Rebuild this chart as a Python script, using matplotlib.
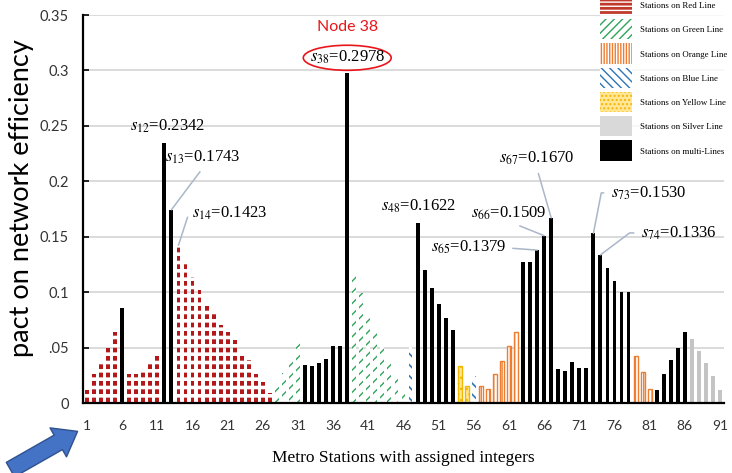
import matplotlib
matplotlib.use("Agg")
from matplotlib import pyplot as plt
from matplotlib.patches import Patch, Ellipse, FancyArrowPatch, Rectangle
from matplotlib.legend_handler import HandlerPatch
from matplotlib.transforms import IdentityTransform
import numpy as np

# impact of each metro station (1..91) on network efficiency
impact = [0.012, 0.026, 0.037, 0.050, 0.064, 0.086, 0.026, 0.026, 0.031, 0.037,
          0.045, 0.2342, 0.1743, 0.1423, 0.1275, 0.114, 0.102, 0.089, 0.082, 0.070,
          0.064, 0.057, 0.045, 0.039, 0.026, 0.019, 0.009, 0.015, 0.027, 0.039,
          0.059, 0.034, 0.033, 0.036, 0.040, 0.051, 0.051, 0.2978, 0.117, 0.099,
          0.079, 0.066, 0.054, 0.036, 0.025, 0.013, 0.051, 0.1622, 0.120, 0.104,
          0.089, 0.077, 0.066, 0.033, 0.015, 0.024, 0.015, 0.013, 0.026, 0.038,
          0.051, 0.064, 0.1275, 0.1275, 0.1379, 0.1509, 0.1670, 0.031, 0.029, 0.037,
          0.032, 0.032, 0.1530, 0.1336, 0.1215, 0.110, 0.1005, 0.1005, 0.042, 0.028,
          0.013, 0.012, 0.026, 0.039, 0.050, 0.064, 0.0575, 0.047, 0.036, 0.024,
          0.012]
stations = list(range(1, len(impact) + 1))

# which line each run of consecutive stations belongs to
line_runs = [("Red", 5), ("multi", 1), ("Red", 5), ("multi", 2), ("Red", 14),
             ("Green", 4), ("multi", 7), ("Green", 8), ("Blue", 1), ("multi", 6),
             ("Yellow", 2), ("Blue", 1), ("Orange", 6), ("multi", 16), ("Orange", 3),
             ("multi", 5), ("Silver", 5)]
line_order = ["Red", "Green", "Orange", "Blue", "Yellow", "Silver", "multi"]
legend_labels = ["Stations on Red Line", "Stations on Green Line", "Stations on Orange Line",
                 "Stations on Blue Line", "Stations on Yellow Line", "Stations on Silver Line",
                 "Stations on multi-Lines"]

# labelled stations
noted = [12, 13, 14, 48, 65, 66, 67, 73, 74]
yticks = [0, 0.05, 0.1, 0.15, 0.2, 0.25, 0.3, 0.35]
ytick_labels = ["0", ".05", "0.1", "0.15", "0.2", "0.25", "0.3", "0.35"]
xticks = list(range(1, 92, 5))

line_of = []
for name, n in line_runs:
    line_of += [name] * n
line_of = np.array(line_of)
stations = np.array(stations)
impact = np.array(impact)

# face, hatch colour, hatch, hatch lw, edge lw
styles = {
    "Red": ("#b3191b", "white", "--", 2.6, 0),
    "Green": ("white", "#2fa35a", "///", 1.0, 0),
    "Orange": ("white", "#ed7d31", "||||", 1.0, 1.0),
    "Blue": ("white", "#2e75b6", "\\\\\\", 1.2, 0),
    "Yellow": ("#ffe699", "#f2b800", "...", 1.0, 1.0),
    "Silver": ("#c4c4c4", "#c4c4c4", None, 1.0, 0),
    "multi": ("black", "black", None, 1.0, 0),
}
legend_hatch = {"Red": "----", "Green": "////", "Orange": "||||||", "Blue": "\\\\\\\\",
                "Yellow": "....", "Silver": None, "multi": None}

serif = "Liberation Serif"
sans = "Lato"
plt.rcParams["mathtext.fontset"] = "stix"


def tall_patch(legend, orig_handle, xdescent, ydescent, width, height, fontsize):
    # legend swatch about 20 px high, centred on the text line
    h = 14.6
    cy = -ydescent + height / 2
    return Rectangle((-xdescent, cy - h / 2), width, h)


fig = plt.figure(figsize=(7.32, 4.73), dpi=100)
ax = fig.add_axes([83 / 732, 70 / 473, 641 / 732, 388 / 473])

handles = []
for name, lab in zip(line_order, legend_labels):
    fc, hc, hatch, hlw, elw = styles[name]
    sel = line_of == name
    with plt.rc_context({"hatch.linewidth": hlw}):
        ax.bar(stations[sel], impact[sel], width=0.55, facecolor=fc, edgecolor=hc,
               hatch=hatch, linewidth=elw, zorder=2)
    lfc = "#d9d9d9" if name == "Silver" else fc
    if name == "Red":
        lfc = "#c0392b"
    with plt.rc_context({"hatch.linewidth": 1.2}):
        handles.append(Patch(facecolor=lfc, edgecolor=hc if name != "Silver" else lfc,
                             hatch=legend_hatch[name], linewidth=0, label=lab))

ax.set_xlim(0.43, 91.57)
ax.set_ylim(0, 0.35)
ax.set_yticks(yticks)
ax.set_yticklabels(ytick_labels, fontfamily=sans, fontsize=10.5, color="#333333")
ax.set_xticks(xticks)
ax.set_xticklabels([str(t) for t in xticks], fontfamily=sans, fontsize=10, color="#333333")
ax.tick_params(axis="y", direction="in", length=4, width=1.2, pad=10)
ax.tick_params(axis="x", length=0, pad=12)
ax.grid(axis="y", color="#d4d4d4", linewidth=1.2, zorder=0)
ax.set_axisbelow(True)
for s in ["top", "right"]:
    ax.spines[s].set_visible(False)
for s in ["left", "bottom"]:
    ax.spines[s].set_linewidth(1.6)

ax.set_xlabel("Metro Stations with assigned integers", fontfamily=serif, fontsize=12.5,
              labelpad=13)
fig.text(22 / 732, 1 - 198 / 473, "pact on network efficiency", rotation=90,
         ha="center", va="center", fontfamily=sans, fontsize=19.5)

# value labels: text position (x, y), relpos, connection
note_pos = {
    12: (12.5, 0.250, None, None),
    13: (17.5, 0.222, (0.52, 0), "arc3"),
    14: (21.3, 0.171, (0, 0.5), "angle,angleA=0,angleB=72,rad=0"),
    48: (48.1, 0.177, None, None),
    65: (55.2, 0.140, (1, 0.5), "arc3"),
    66: (61.0, 0.1715, (0.5, 0), "arc3"),
    67: (64.9, 0.221, (0.5, 0), "arc3"),
    73: (80.8, 0.1895, (0, 0.5), "angle,angleA=0,angleB=79,rad=0"),
    74: (85.1, 0.1534, (0, 0.5), "angle,angleA=0,angleB=37,rad=0"),
}
for st in noted:
    tx, ty, rp, cs = note_pos[st]
    txt = "$s_{%d}$=%.4f" % (st, impact[st - 1])
    if cs is None:
        ax.text(tx, ty, txt, ha="center", va="center", fontfamily=serif, fontsize=12)
    else:
        ax.annotate(txt, xy=(st, impact[st - 1]), xytext=(tx, ty), ha="center", va="center",
                    fontfamily=serif, fontsize=12,
                    arrowprops=dict(arrowstyle="-", color="#a9b7c9", lw=1.1, relpos=rp,
                                    connectionstyle=cs, shrinkA=3, shrinkB=0))

# highlighted node 38
y38 = impact[37] + 0.0136
ax.text(38, y38, "$s_{38}$=%.4f" % impact[37], ha="center", va="center",
        fontfamily=serif, fontsize=12)
ax.add_patch(Ellipse((38, y38), 12.5, 0.0226, fill=False, edgecolor="#e8161b", linewidth=1.2))
ax.text(38, y38 + 0.0275, "Node 38", ha="center", va="center", color="#e8161b",
        fontfamily=sans, fontsize=11.5)

leg = fig.legend(handles=handles, loc="upper left", bbox_to_anchor=(600 / 732, 1 - 2 / 473),
                 prop={"family": serif, "size": 6.4}, frameon=True, borderpad=0,
                 handlelength=3.6, handleheight=0.7, labelspacing=1.8,
                 handletextpad=0.92, borderaxespad=0,
                 handler_map={Patch: HandlerPatch(patch_func=tall_patch)})
leg.get_frame().set_facecolor("white")
leg.get_frame().set_edgecolor("none")

# blue arrow in the lower left corner
arrow = FancyArrowPatch((8, 473 - 471), (80, 473 - 430),
                        arrowstyle="simple,head_length=1.0,head_width=1.5,tail_width=0.75",
                        mutation_scale=16, transform=IdentityTransform(),
                        facecolor="#4472c4", edgecolor="#2f528f", linewidth=1)
fig.add_artist(arrow)

fig.savefig("out.png", dpi=100)
